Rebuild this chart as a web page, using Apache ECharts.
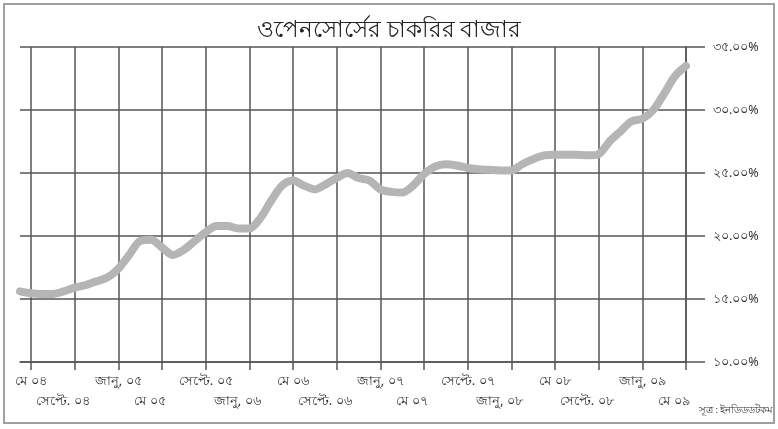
<!DOCTYPE html>
<html><head><meta charset="utf-8">
<script src="https://cdn.jsdelivr.net/npm/echarts@6/dist/echarts.min.js"></script>
<style>html,body{margin:0;padding:0;background:#fff}#c{width:778px;height:429px}</style>
</head><body><div id="c"></div>
<script>
// Months from এপ্রি ০৪ to মে ০৯
const categories = [
 'এপ্রি ০৪','মে ০৪','জুন ০৪','জুলা ০৪','আগ ০৪','সেপ্টে. ০৪','অক্টো ০৪','নভে ০৪','ডিসে ০৪',
 'জানু, ০৫','ফেব্রু ০৫','মার্চ ০৫','এপ্রি ০৫','মে ০৫','জুন ০৫','জুলা ০৫','আগ ০৫','সেপ্টে. ০৫','অক্টো ০৫','নভে ০৫','ডিসে ০৫',
 'জানু, ০৬','ফেব্রু ০৬','মার্চ ০৬','এপ্রি ০৬','মে ০৬','জুন ০৬','জুলা ০৬','আগ ০৬','সেপ্টে. ০৬','অক্টো ০৬','নভে ০৬','ডিসে ০৬',
 'জানু, ০৭','ফেব্রু ০৭','মার্চ ০৭','এপ্রি ০৭','মে ০৭','জুন ০৭','জুলা ০৭','আগ ০৭','সেপ্টে. ০৭','অক্টো ০৭','নভে ০৭','ডিসে ০৭',
 'জানু, ০৮','ফেব্রু ০৮','মার্চ ০৮','এপ্রি ০৮','মে ০৮','জুন ০৮','জুলা ০৮','আগ ০৮','সেপ্টে. ০৮','অক্টো ০৮','নভে ০৮','ডিসে ০৮',
 'জানু, ০৯','ফেব্রু ০৯','মার্চ ০৯','এপ্রি ০৯','মে ০৯'
];
const values = [
 15.6,15.45,15.4,15.4,15.6,15.9,16.1,16.4,16.7,
 17.4,18.5,19.6,19.7,19.1,18.5,18.9,19.6,20.3,20.8,20.8,20.6,
 20.6,21.4,22.8,24.0,24.4,24.0,23.7,24.1,24.6,25.0,24.6,24.4,
 23.7,23.5,23.45,24.0,24.9,25.5,25.7,25.6,25.4,25.3,25.25,25.2,
 25.2,25.7,26.1,26.4,26.45,26.45,26.45,26.4,26.5,27.5,28.3,29.1,
 29.3,30.0,31.3,32.7,33.5
];
const yTickLabels = {10:'১০.০০%',15:'১৫.০০%',20:'২০.০০%',25:'২৫.০০%',30:'৩০.০০%',35:'৩৫.০০%'};
const titleText = 'ওপেনসোর্সের চাকরির বাজার';
const sourceText = 'সূত্র : ইনডিডডটকম';

const isTick = i => (i - 1) % 4 === 0;
const isRow1 = i => (i - 1) % 8 === 0;
const isRow2 = i => (i - 5) % 8 === 0;
const gridColor = '#555';
const labelBase = {color: '#333', fontSize: 13, fontFamily: 'Noto Sans, sans-serif', hideOverlap: false};
const chart = echarts.init(document.getElementById('c'));
chart.setOption({
  backgroundColor: '#fff',
  animation: false,
  title: {
    text: titleText, left: 'center', top: 14,
    textStyle: {fontSize: 23, fontWeight: 'normal', color: '#222', fontFamily: 'Noto Sans, sans-serif'}
  },
  graphic: [
    {type: 'rect', shape: {x: 4, y: 4, width: 770, height: 419},
     style: {fill: 'none', stroke: '#a0a0a0', lineWidth: 2}, silent: true},
    {type: 'text', left: 699, top: 405,
     style: {text: sourceText, fontSize: 9.5, fill: '#333', fontFamily: 'Noto Sans, sans-serif'}}
  ],
  grid: {left: 20, right: 92, top: 47, bottom: 67},
  xAxis: [{
    type: 'category', data: categories, boundaryGap: false, position: 'bottom',
    axisLine: {show: true, lineStyle: {color: gridColor, width: 1.5}},
    axisTick: {show: true, length: 8, interval: (i) => isTick(i), lineStyle: {color: gridColor, width: 1.5}},
    splitLine: {show: true, interval: (i) => isTick(i), lineStyle: {color: gridColor, width: 1.5}},
    axisLabel: Object.assign({interval: (i) => isRow1(i), margin: 13, showMinLabel: true, showMaxLabel: true}, labelBase)
  }, {
    type: 'category', data: categories, boundaryGap: false, position: 'bottom', offset: 0,
    axisLine: {show: false}, axisTick: {show: false}, splitLine: {show: false},
    axisLabel: Object.assign({interval: (i) => isRow2(i), margin: 33, showMinLabel: true, showMaxLabel: true,
      formatter: v => '{b|' + v + '}',
      rich: {b: {fontSize: 13, color: '#333', fontFamily: 'Noto Sans, sans-serif', padding: [0, 24, 0, 0]}}}, labelBase)
  }],
  yAxis: {
    type: 'value', position: 'right', min: 10, max: 35, interval: 5,
    axisLine: {show: true, lineStyle: {color: gridColor, width: 1.5}},
    axisTick: {show: true, length: 19, lineStyle: {color: gridColor, width: 1.5}},
    splitLine: {show: true, lineStyle: {color: gridColor, width: 1.5}},
    axisLabel: {margin: 27, color: '#333', fontSize: 12.5, fontFamily: 'Noto Sans, sans-serif',
      formatter: v => yTickLabels[v] || ''}
  },
  series: [{
    type: 'line', xAxisIndex: 0, data: values, showSymbol: false, smooth: 0.3,
    lineStyle: {color: '#b5b5b5', width: 8, cap: 'round', join: 'round'}
  }]
});
</script></body></html>
